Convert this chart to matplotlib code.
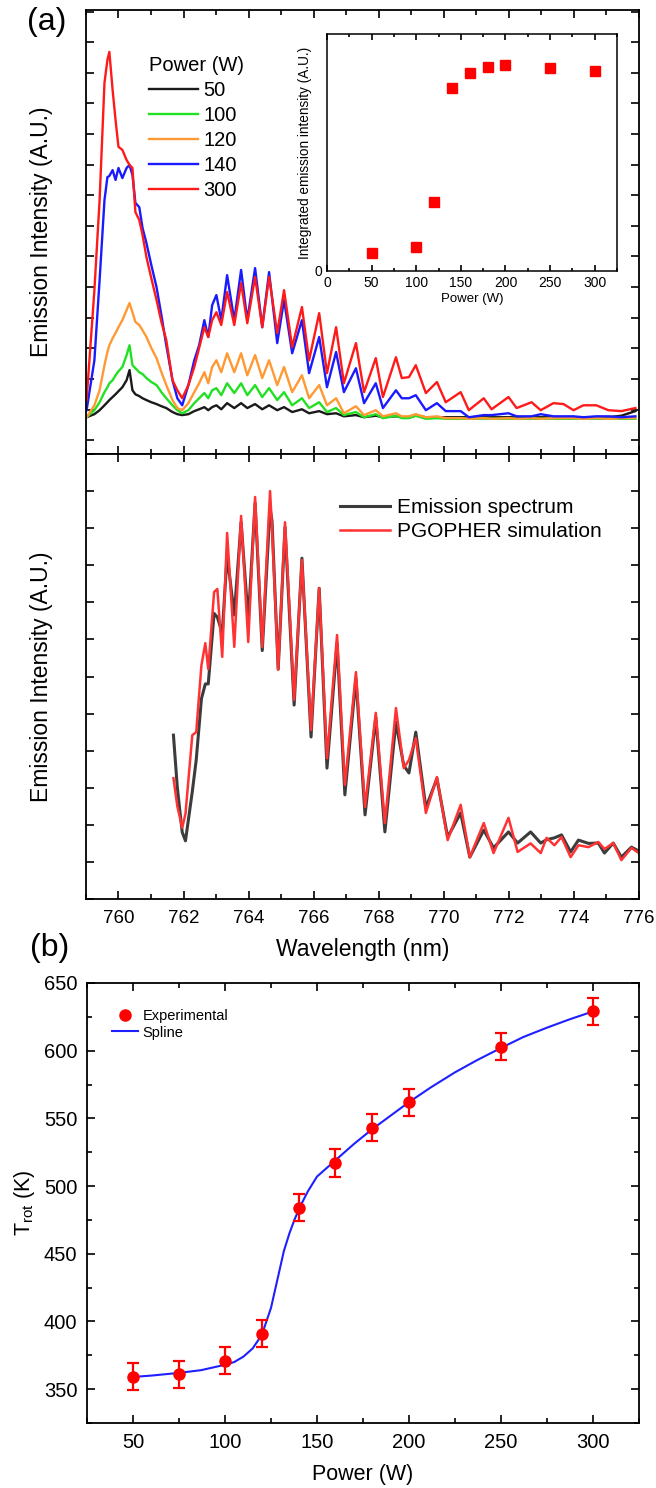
import matplotlib
matplotlib.use('Agg')
from matplotlib import pyplot as plt
from matplotlib.lines import Line2D
from matplotlib.ticker import MultipleLocator

plt.rcParams['font.family'] = ['Liberation Sans', 'DejaVu Sans']

# %% (a) upper: emission spectra at several powers
wl_a = [759.02, 759.26, 759.42, 759.57, 759.66, 759.72, 759.82, 759.91, 760.00, 760.12,
        760.25, 760.34, 760.43, 760.52, 760.64, 760.74, 760.86, 761.01, 761.17, 761.32,
        761.47, 761.66, 761.81, 761.96, 762.15, 762.33, 762.48, 762.64, 762.76, 762.88,
        763.01, 763.16, 763.34, 763.56, 763.77, 763.96, 764.20, 764.42, 764.63, 764.88,
        765.09, 765.34, 765.64, 765.86, 766.17, 766.41, 766.69, 766.93, 767.30, 767.55,
        767.91, 768.13, 768.53, 768.71, 768.93, 769.14, 769.45, 769.79, 770.06, 770.52,
        770.77, 771.23, 771.47, 771.99, 772.24, 772.70, 772.98, 773.37, 773.68, 773.99,
        774.29, 774.69, 775.06, 775.46, 775.89]
I_50 = [0.75, 0.85, 0.98, 1.14, 1.24, 1.31, 1.41, 1.50, 1.60, 1.73,
        1.96, 2.29, 1.63, 1.50, 1.44, 1.37, 1.31, 1.24, 1.18, 1.11,
        1.05, 0.92, 0.85, 0.82, 0.85, 0.95, 1.01, 1.08, 0.98, 1.08,
        1.14, 1.01, 1.21, 1.05, 1.21, 1.05, 1.18, 1.01, 1.14, 0.98,
        1.08, 0.92, 1.01, 0.88, 0.95, 0.85, 0.88, 0.78, 0.82, 0.75,
        0.80, 0.75, 0.78, 0.75, 0.75, 0.80, 0.75, 0.75, 0.75, 0.75,
        0.75, 0.75, 0.75, 0.75, 0.75, 0.75, 0.75, 0.75, 0.75, 0.75,
        0.75, 0.75, 0.75, 0.80, 0.95]
I_100 = [0.75, 0.98, 1.24, 1.57, 1.73, 1.86, 1.96, 2.12, 2.25, 2.39,
         2.78, 3.10, 2.45, 2.35, 2.22, 2.16, 2.03, 1.90, 1.80, 1.57,
         1.37, 1.14, 0.98, 0.88, 0.98, 1.21, 1.37, 1.54, 1.37, 1.63,
         1.70, 1.47, 1.86, 1.54, 1.86, 1.47, 1.80, 1.41, 1.70, 1.31,
         1.57, 1.14, 1.37, 1.05, 1.24, 0.92, 1.05, 0.82, 0.92, 0.75,
         0.85, 0.72, 0.80, 0.72, 0.72, 0.80, 0.70, 0.72, 0.70, 0.70,
         0.70, 0.70, 0.70, 0.70, 0.70, 0.70, 0.70, 0.70, 0.70, 0.70,
         0.70, 0.70, 0.70, 0.70, 0.70]
I_120 = [0.75, 1.14, 1.63, 2.45, 2.88, 3.10, 3.33, 3.50, 3.69, 3.92,
         4.25, 4.48, 4.18, 3.86, 3.76, 3.59, 3.37, 3.01, 2.68, 2.22,
         1.80, 1.31, 1.05, 0.98, 1.21, 1.57, 1.86, 2.22, 1.86, 2.39,
         2.61, 2.22, 2.84, 2.22, 2.84, 2.12, 2.78, 2.03, 2.61, 1.80,
         2.39, 1.57, 2.12, 1.37, 1.80, 1.14, 1.37, 0.88, 1.11, 0.82,
         0.98, 0.78, 0.88, 0.78, 0.78, 0.85, 0.75, 0.78, 0.72, 0.72,
         0.70, 0.72, 0.70, 0.72, 0.70, 0.72, 0.70, 0.72, 0.72, 0.72,
         0.70, 0.72, 0.70, 0.72, 0.72]
I_140 = [0.98, 2.61, 5.23, 7.84, 8.59, 8.63, 8.82, 8.50, 8.89, 8.56,
         8.89, 8.99, 8.66, 7.75, 7.61, 6.93, 6.44, 5.72, 5.00, 4.08,
         3.10, 1.96, 1.37, 1.14, 1.80, 2.61, 3.10, 3.92, 3.37, 4.41,
         4.74, 3.92, 5.39, 3.92, 5.56, 3.92, 5.62, 3.69, 5.49, 3.17,
         4.58, 2.84, 3.92, 2.19, 3.37, 1.73, 2.88, 1.57, 2.35, 1.21,
         1.86, 1.05, 1.63, 1.37, 1.37, 1.47, 0.98, 1.21, 0.95, 0.95,
         0.75, 0.82, 0.82, 0.88, 0.78, 0.78, 0.85, 0.78, 0.78, 0.78,
         0.75, 0.78, 0.78, 0.75, 0.78]
I_300 = [1.31, 4.90, 7.84, 11.67, 12.42, 12.68, 11.44, 10.46, 9.58, 9.48,
         9.15, 8.99, 8.89, 7.45, 7.19, 6.70, 5.98, 5.29, 4.58, 3.86,
         3.27, 1.96, 1.63, 1.37, 1.80, 2.39, 3.01, 3.69, 3.37, 3.92,
         4.18, 3.76, 4.84, 3.76, 5.13, 3.82, 5.33, 3.69, 5.33, 3.50,
         4.90, 3.04, 4.35, 2.61, 4.15, 2.19, 3.69, 1.86, 3.17, 1.57,
         2.68, 1.41, 2.71, 2.03, 2.06, 2.45, 1.54, 1.90, 1.24, 1.57,
         0.98, 1.37, 1.01, 1.41, 1.05, 1.24, 0.98, 1.21, 1.18, 0.98,
         1.14, 1.14, 0.98, 0.95, 1.05]
power_labels = ['50', '100', '120', '140', '300']
power_colors = ['#1a1a1a', '#22e022', '#ff9933', '#1a1aff', '#ff1a1a']

# inset: integrated emission intensity
power_in = [50, 100, 120, 140, 160, 180, 200, 250, 300]
integ = [0.076, 0.10, 0.29, 0.77, 0.835, 0.86, 0.87, 0.857, 0.845]

# %% (a) lower: measured spectrum vs PGOPHER simulation
wl_b = [761.69, 761.81, 761.96, 762.06, 762.27, 762.39, 762.55, 762.67, 762.76, 762.94,
        763.04, 763.19, 763.34, 763.56, 763.77, 763.99, 764.20, 764.42, 764.66, 764.72,
        764.91, 765.12, 765.40, 765.64, 765.92, 766.17, 766.41, 766.72, 766.96, 767.30,
        767.58, 767.91, 768.19, 768.53, 768.77, 768.93, 769.14, 769.45, 769.79, 770.12,
        770.52, 770.80, 771.23, 771.53, 771.99, 772.27, 772.67, 772.98, 773.16, 773.40,
        773.62, 773.90, 774.14, 774.45, 774.75, 774.94, 775.21, 775.46, 775.77, 775.98]
I_meas = [3.42, 2.00, 0.80, 0.57, 1.90, 2.75, 4.40, 4.80, 4.80, 6.70,
          6.60, 6.17, 8.27, 6.66, 9.16, 6.52, 9.68, 5.70, 9.54, 9.20,
          5.20, 9.03, 4.23, 8.19, 3.37, 7.38, 2.53, 5.90, 1.81, 4.95,
          1.27, 3.90, 0.81, 3.77, 2.60, 2.40, 3.50, 1.46, 2.25, 0.67,
          1.32, 0.13, 0.86, 0.38, 0.81, 0.51, 0.81, 0.51, 0.60, 0.65,
          0.73, 0.27, 0.59, 0.50, 0.51, 0.24, 0.51, 0.13, 0.40, 0.30]
I_sim = [2.26, 1.50, 0.92, 1.30, 3.42, 3.50, 5.30, 5.90, 5.20, 7.28,
         7.36, 5.53, 8.87, 5.80, 9.33, 5.93, 9.84, 5.80, 10.00, 9.00,
         5.18, 9.16, 4.37, 8.14, 3.56, 7.38, 2.80, 6.12, 2.08, 5.12,
         1.48, 4.02, 1.05, 4.15, 2.53, 2.75, 3.34, 1.32, 2.29, 0.59,
         1.54, 0.13, 1.05, 0.24, 1.19, 0.27, 0.50, 0.24, 0.65, 0.45,
         0.67, 0.13, 0.45, 0.40, 0.54, 0.35, 0.51, 0.05, 0.38, 0.25]

# %% (b) rotational temperature
power = [50, 75, 100, 120, 140, 160, 180, 200, 250, 300]
t_rot = [359, 361, 371, 391, 484, 517, 543, 562, 603, 629]
t_err = [10, 10, 10, 10, 10, 10, 10, 10, 10, 10]
spl_p = [50, 60, 75, 87, 100, 105, 110, 115, 120, 125, 128, 132, 135, 138, 140,
         142, 145, 150, 155, 160, 170, 180, 190, 200, 212, 225, 237, 250, 262,
         275, 287, 300]
spl_t = [359, 360, 362, 364, 368, 370, 374, 380, 390, 410, 428, 452, 465, 476, 482,
         488, 496, 507, 513, 519, 531, 542, 552, 562, 573, 584, 593, 602, 610,
         617, 623, 629]


def style(ax, lw=1.3):
    for s in ax.spines.values():
        s.set_linewidth(lw)
    ax.tick_params(which='both', direction='in', top=True, right=True, width=1.2)
    ax.tick_params(which='major', length=6)
    ax.tick_params(which='minor', length=3.5)


fig = plt.figure(figsize=(6.56, 14.88), dpi=100)

# upper spectra
ax1 = fig.add_axes([0.131, 0.6949, 0.843, 0.2984])
series = [I_50, I_100, I_120, I_140, I_300]
for vals, lab, col in zip(series, power_labels, power_colors):
    ax1.plot(wl_a, vals, color=col, lw=1.7, label=lab)
ax1.set_xlim(759, 776)
ax1.set_ylim(-0.45, 14.05)
ax1.xaxis.set_major_locator(MultipleLocator(2))
ax1.xaxis.set_minor_locator(MultipleLocator(1))
ax1.yaxis.set_major_locator(MultipleLocator(1))
style(ax1)
ax1.tick_params(labelbottom=False, labelleft=False)
ax1.set_ylabel('Emission Intensity (A.U.)', fontsize=16.5, labelpad=24)
leg = ax1.legend(title='Power (W)', loc='upper left', bbox_to_anchor=(0.1, 0.915),
                 frameon=False, fontsize=14.5, title_fontsize=14.5, handlelength=2.4,
                 handletextpad=0.3, labelspacing=0.3, alignment='left',
                 borderaxespad=0)

# inset
ax_in = fig.add_axes([0.4985, 0.8179, 0.442, 0.1593])
ax_in.plot(power_in, integ, 's', color='#ff0000', ms=7)
ax_in.set_xlim(0, 325)
ax_in.set_ylim(0, 1)
ax_in.xaxis.set_major_locator(MultipleLocator(50))
ax_in.xaxis.set_minor_locator(MultipleLocator(25))
ax_in.set_yticks([0])
style(ax_in, lw=1.1)
ax_in.tick_params(which='major', length=4, labelsize=10)
ax_in.tick_params(which='minor', length=2.5)
ax_in.tick_params(axis='y', right=False, length=0)
ax_in.set_xlabel('Power (W)', fontsize=9.5, labelpad=2)
ax_in.set_ylabel('Integrated emission intensity (A.U.)', fontsize=9.8, labelpad=2)

# lower spectra
ax2 = fig.add_axes([0.131, 0.3958, 0.843, 0.2991])
ax2.plot(wl_b, I_meas, color='#3c3c3c', lw=2.2, label='Emission spectrum')
ax2.plot(wl_b, I_sim, color='#ff3333', lw=1.8, label='PGOPHER simulation')
ax2.set_xlim(759, 776)
ax2.set_ylim(-1, 11)
ax2.xaxis.set_major_locator(MultipleLocator(2))
ax2.xaxis.set_minor_locator(MultipleLocator(1))
ax2.yaxis.set_major_locator(MultipleLocator(1))
style(ax2)
ax2.tick_params(labelleft=False, labelsize=13.5)
ax2.tick_params(axis='x', pad=8)
ax2.set_ylabel('Emission Intensity (A.U.)', fontsize=16.5, labelpad=24)
ax2.set_xlabel('Wavelength (nm)', fontsize=16.5, labelpad=8)
ax2.legend(loc='upper left', bbox_to_anchor=(0.445, 0.92), frameon=False,
           fontsize=15, handlelength=2.4, handletextpad=0.3, labelspacing=0.25,
           borderaxespad=0)

# (b) panel
ax3 = fig.add_axes([0.1326, 0.0437, 0.8415, 0.2957])
ax3.plot(spl_p, spl_t, color='#1f1fff', lw=1.5, zorder=2)
ax3.errorbar(power, t_rot, yerr=t_err, fmt='none', ecolor='#ff0000', elinewidth=1.6,
             capsize=4, capthick=1.6, zorder=3)
ax3.plot(power, t_rot, 'o', color='#ff0000', ms=8, zorder=4)
ax3.set_xlim(25, 325)
ax3.set_ylim(325, 650)
ax3.xaxis.set_major_locator(MultipleLocator(50))
ax3.xaxis.set_minor_locator(MultipleLocator(25))
ax3.yaxis.set_major_locator(MultipleLocator(50))
ax3.yaxis.set_minor_locator(MultipleLocator(25))
style(ax3)
ax3.tick_params(labelsize=14.5, pad=7)
ax3.set_xlabel('Power (W)', fontsize=15.5, labelpad=9)
ax3.set_ylabel('T$_\\mathregular{rot}$ (K)', fontsize=15.5, labelpad=5)
handles = [Line2D([], [], ls='none', marker='o', color='#ff0000', ms=8),
           Line2D([], [], color='#1f1fff', lw=1.5)]
ax3.legend(handles, ['Experimental', 'Spline'], loc='upper left',
           bbox_to_anchor=(0.035, 0.955), frameon=False, fontsize=10.5,
           handlelength=1.8, handletextpad=0.3, labelspacing=0.2, borderaxespad=0)

fig.text(47 / 656, 1 - 22 / 1488, '(a)', fontsize=23, ha='center', va='center')
fig.text(50 / 656, 1 - 948 / 1488, '(b)', fontsize=23, ha='center', va='center')

fig.savefig('out.png', dpi=100)
